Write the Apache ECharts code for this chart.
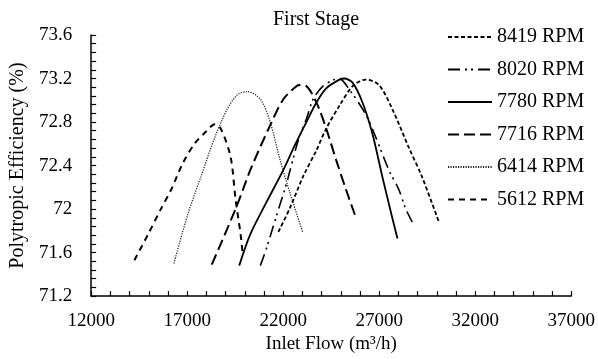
<!DOCTYPE html>
<html>
<head>
<meta charset="utf-8">
<script src="https://cdn.jsdelivr.net/npm/echarts@6/dist/echarts.min.js"></script>
<style>html,body{margin:0;padding:0;background:#fff;}#c{width:598px;height:359px;}</style>
</head>
<body>
<div id="c"></div>
<script>
// Tick settings
const xMin = 12000, xMax = 37000, xStep = 5000;
const yMin = 71.2, yMax = 73.6, yStep = 0.4;

// Series names
const names = ['8419 RPM', '8020 RPM', '7780 RPM', '7716 RPM', '6414 RPM', '5612 RPM'];

// Inlet flow (m3/h) and efficiency (%)
const x8419 = [21750, 22350, 23040, 23730, 24240, 24930, 25620, 26300, 26990, 27680, 28530, 29220, 30110];
const y8419 = [71.79, 72.01, 72.30, 72.54, 72.74, 72.95, 73.13, 73.19, 73.14, 72.92, 72.57, 72.30, 71.88];

const x8020 = [20810, 21150, 21670, 22180, 22780, 23210, 23560, 24070, 24650, 24910, 25440, 26300, 26820, 27500, 28020, 28360, 28720];
const y8020 = [71.48, 71.65, 71.95, 72.24, 72.63, 72.83, 73.01, 73.13, 73.19, 73.20, 73.10, 72.87, 72.66, 72.36, 72.18, 72.01, 71.88];

const x7780 = [19710, 20290, 21150, 22010, 22590, 23210, 23730, 24240, 24930, 25180, 25620, 26130, 26650, 27160, 27680, 27950];
const y7780 = [71.48, 71.77, 72.07, 72.36, 72.58, 72.80, 72.98, 73.11, 73.19, 73.20, 73.16, 72.98, 72.69, 72.30, 71.92, 71.73];

const x7716 = [18280, 18750, 19610, 20290, 21320, 22010, 22700, 22870, 23210, 23730, 24240, 24760, 25270, 25810];
const y7716 = [71.49, 71.68, 72.04, 72.36, 72.77, 73.01, 73.13, 73.14, 73.13, 72.98, 72.74, 72.45, 72.18, 71.91];

const x6414 = [16310, 17030, 17720, 18440, 19090, 19610, 20120, 20810, 21320, 21840, 22350, 23010];
const y6414 = [71.50, 71.95, 72.30, 72.66, 72.92, 73.05, 73.08, 73.01, 72.80, 72.45, 72.15, 71.79];

const x5612 = [14250, 14970, 15660, 16170, 16770, 17380, 17970, 18440, 18750, 19260, 19520, 19780, 19890];
const y5612 = [71.53, 71.77, 72.01, 72.18, 72.42, 72.60, 72.71, 72.78, 72.74, 72.48, 72.09, 71.77, 71.59];

const xs = [x8419, x8020, x7780, x7716, x6414, x5612];
const ys = [y8419, y8020, y7780, y7716, y6414, y5612];

const styles = [
  {type: [4, 2.5], width: 1.8, color: '#000'},
  {type: [12, 5, 2, 4, 2, 5], width: 1.6, color: '#000'},
  {type: 'solid', width: 1.8, color: '#000'},
  {type: [11, 5], width: 2, color: '#000'},
  {type: [1.2, 1.3], width: 1.3, color: '#222'},
  {type: [6, 5], width: 2, color: '#000'}
];

const font = 'Liberation Serif, Times New Roman, serif';

const series = names.map((n, i) => ({
  name: n,
  type: 'line',
  smooth: 0.3,
  symbol: 'none',
  lineStyle: styles[i],
  itemStyle: {color: styles[i].color},
  data: xs[i].map((x, j) => [x, ys[i][j]])
}));

const chart = echarts.init(document.getElementById('c'), null, {renderer: 'canvas'});
chart.setOption({
  animation: false,
  backgroundColor: '#fff',
  title: {
    text: 'First Stage',
    left: 273, top: 10, padding: 0,
    textStyle: {fontFamily: font, fontSize: 20, fontWeight: 'normal', color: '#000'}
  },
  legend: {
    orient: 'vertical',
    left: 447, top: 27,
    padding: 0,
    itemWidth: 44, itemHeight: 14, itemGap: 12.5,
    itemStyle: {opacity: 0},
    textStyle: {fontFamily: font, fontSize: 20, color: '#000'},
    data: names
  },
  grid: {left: 87, right: 25, top: 35, bottom: 53, containLabel: false},
  xAxis: {
    type: 'value', min: xMin, max: xMax, interval: xStep,
    name: 'Inlet Flow (m³/h)', nameLocation: 'middle', nameGap: 36,
    nameTextStyle: {fontFamily: font, fontSize: 19, color: '#000'},
    axisLine: {lineStyle: {color: '#000', width: 1.5}},
    axisTick: {inside: true, length: 5, lineStyle: {color: '#000', width: 1.2}},
    minorTick: {show: true, splitNumber: 5, length: 5, lineStyle: {color: '#000', width: 1.2}},
    axisLabel: {fontFamily: font, fontSize: 19, color: '#000', margin: 15, formatter: v => String(v)},
    splitLine: {show: false}
  },
  yAxis: {
    type: 'value', min: yMin, max: yMax, interval: yStep,
    name: 'Polytropic Efficiency (%)', nameLocation: 'middle', nameGap: 58,
    nameTextStyle: {fontFamily: font, fontSize: 20, color: '#000'},
    axisLine: {show: true, lineStyle: {color: '#000', width: 1.5}},
    axisTick: {show: true, inside: true, length: 5, lineStyle: {color: '#000', width: 1.2}},
    minorTick: {show: true, splitNumber: 5, length: 5, lineStyle: {color: '#000', width: 1.2}},
    axisLabel: {fontFamily: font, fontSize: 19, color: '#000', margin: 19, formatter: v => String(+v.toFixed(1))},
    splitLine: {show: false}
  },
  series: series
});
</script>
</body>
</html>
